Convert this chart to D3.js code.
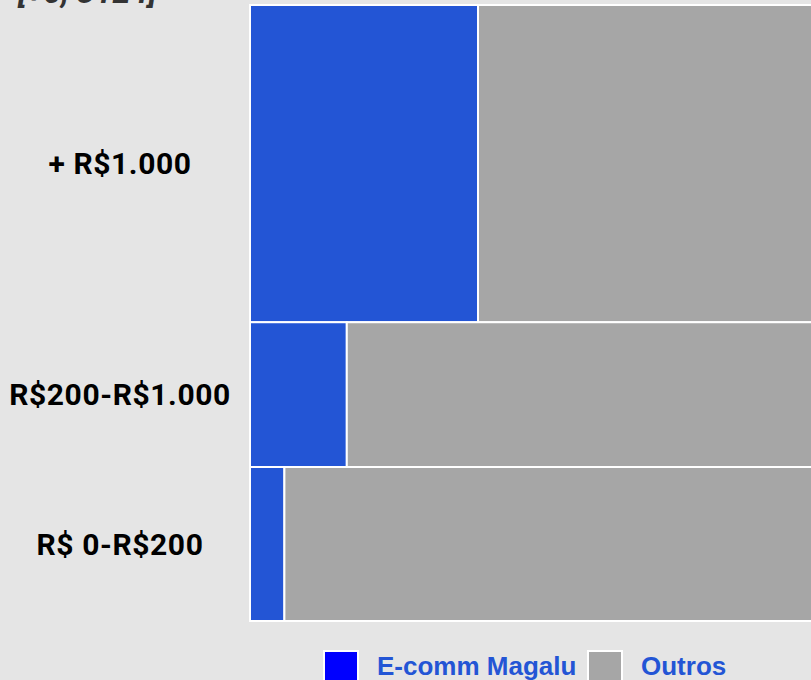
<!DOCTYPE html>
<html>
<head>
<meta charset="utf-8">
<script src="https://cdn.jsdelivr.net/npm/d3@7"></script>
<style>
  body { margin: 0; background: #e5e5e5; overflow: hidden; }
</style>
</head>
<body>
<div id="chart"></div>
<script>
// price ranges (top to bottom)
const categories = ["+ R$1.000", "R$200-R$1.000", "R$ 0-R$200"];
// share of total sales in each range (row height)
const rangeShare = [0.515, 0.235, 0.25];
// share of Magalu e-commerce inside each range
const magaluShare = [0.285, 0.121, 0.043];
const outrosShare = magaluShare.map(d => 1 - d);
const seriesNames = ["E-comm Magalu", "Outros"];
const seriesColors = ["#2355d5", "#a6a6a6"];
const legendColors = ["#0000ff", "#a6a6a6"];

const width = 811, height = 680;
const plotLeft = 250, plotTop = 5, plotBottom = 621;
const plotWidth = 800; // plot runs past the right edge of the page

const svg = d3.select("#chart").append("svg")
  .attr("width", width)
  .attr("height", height);

svg.append("rect").attr("width", width).attr("height", height).attr("fill", "#e5e5e5");

// title, mostly above the top edge
svg.append("text")
  .attr("x", 18).attr("y", 3)
  .attr("font-family", "Roboto, sans-serif")
  .attr("font-style", "italic")
  .attr("font-weight", "bold")
  .attr("font-size", 32)
  .attr("fill", "#333")
  .text("[+0, 3124]");

// build rows with stacked y offsets
let acc = 0;
const rows = categories.map((c, i) => {
  const r = { cat: c, y0: acc, y1: acc + rangeShare[i], vals: [magaluShare[i], outrosShare[i]] };
  acc += rangeShare[i];
  return r;
});

const y = d3.scaleLinear().domain([0, acc]).range([plotTop, plotBottom]);
const x = d3.scaleLinear().domain([0, 1]).range([plotLeft, plotLeft + plotWidth]);

const rowG = svg.selectAll("g.row")
  .data(rows)
  .enter().append("g")
  .attr("class", "row");

rowG.selectAll("rect")
  .data(d => {
    let x0 = 0;
    return d.vals.map((v, j) => {
      const o = { x0: x0, x1: x0 + v, y0: d.y0, y1: d.y1, s: j };
      x0 += v;
      return o;
    });
  })
  .enter().append("rect")
  .attr("x", d => x(d.x0))
  .attr("y", d => y(d.y0))
  .attr("width", d => x(d.x1) - x(d.x0))
  .attr("height", d => y(d.y1) - y(d.y0))
  .attr("fill", d => seriesColors[d.s])
  .attr("stroke", "white")
  .attr("stroke-width", 2);

// category labels
svg.selectAll("text.cat")
  .data(rows)
  .enter().append("text")
  .attr("class", "cat")
  .attr("x", 120)
  .attr("y", d => (y(d.y0) + y(d.y1)) / 2)
  .attr("dy", "0.35em")
  .attr("text-anchor", "middle")
  .attr("font-family", "Roboto, sans-serif")
  .attr("font-weight", "bold")
  .attr("font-size", 30)
  .attr("letter-spacing", 0.6)
  .attr("fill", "#000")
  .text(d => d.cat);

// legend
const legendX = [324, 588];
const legend = svg.selectAll("g.legend")
  .data(seriesNames)
  .enter().append("g")
  .attr("class", "legend")
  .attr("transform", (d, i) => `translate(${legendX[i]},651)`);

legend.append("rect")
  .attr("width", 34).attr("height", 34)
  .attr("fill", (d, i) => legendColors[i])
  .attr("stroke", "white")
  .attr("stroke-width", 2);

legend.append("text")
  .attr("x", 53)
  .attr("y", 24)
  .attr("font-family", "'Liberation Sans', Arial, sans-serif")
  .attr("font-weight", "bold")
  .attr("font-size", 26)
  .attr("fill", "#2355d5")
  .text(d => d);
</script>
</body>
</html>
